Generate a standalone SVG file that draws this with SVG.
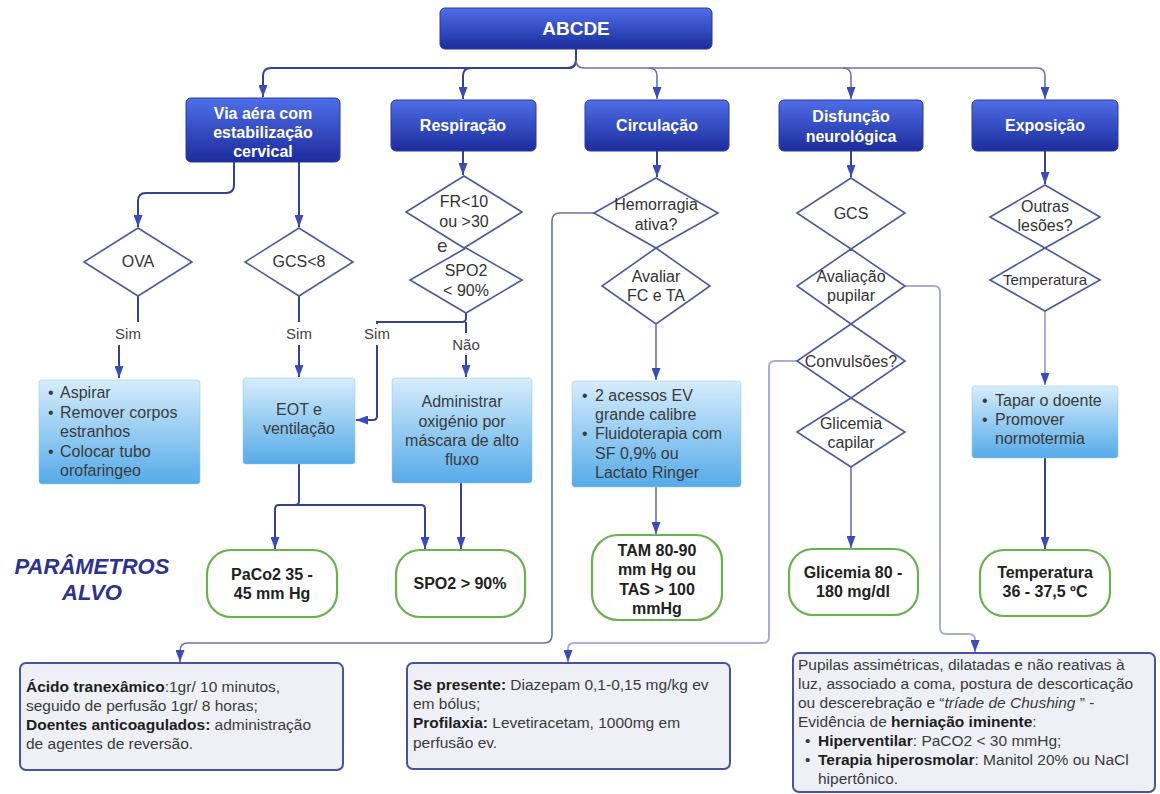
<svg xmlns="http://www.w3.org/2000/svg" width="1160" height="794" viewBox="0 0 1160 794">
<defs>
<linearGradient id="hdr" x1="0" y1="0" x2="0" y2="1"><stop offset="0" stop-color="#4f6ee8"/><stop offset="1" stop-color="#1c2c9c"/></linearGradient>
<linearGradient id="act" x1="0" y1="0" x2="0" y2="1"><stop offset="0" stop-color="#d6edfb"/><stop offset="1" stop-color="#55abe9"/></linearGradient>
<marker id="ah" viewBox="0 0 10 10" refX="10" refY="5" markerWidth="12" markerHeight="9" markerUnits="userSpaceOnUse" orient="auto" preserveAspectRatio="none"><path d="M0,0 L10,5 L0,10 z" fill="#3a4bbd"/></marker>
<style>
text{font-family:"Liberation Sans",Arial,sans-serif;}
.hdr{fill:url(#hdr);stroke:#2a3a9a;stroke-width:1}
.hdt{fill:#ffffff;font-weight:bold;font-size:16px;text-anchor:middle}
.act{fill:url(#act);stroke:#8cc4ee;stroke-width:0.5}
.at{fill:#3a3a3a;font-size:16px}
.atc{fill:#3a3a3a;font-size:16px;text-anchor:middle}
.dia{fill:#ffffff;stroke:#4b5a9c;stroke-width:1.6}
.dt{fill:#333333;font-size:16px;text-anchor:middle}
.tgt{fill:#ffffff;stroke:#6ab24e;stroke-width:2.2}
.tt{fill:#222222;font-weight:bold;font-size:16px;text-anchor:middle}
.note{fill:#eef0f6;stroke:#4653a0;stroke-width:2}
.nt{fill:#3a3a3a;font-size:15.5px}
.b{font-weight:bold;fill:#1e1e1e}
.lbl{fill:#444444;font-size:15px;text-anchor:middle}
.c{fill:none;stroke:#34428f;stroke-width:2}
.cl{fill:none;stroke:#6b73a8;stroke-width:1.6}
.cx{fill:none;stroke:#a9addb;stroke-width:2}
</style>
</defs>
<rect width="1160" height="794" fill="#ffffff"/>

<g id="connectors">
<path class="c" d="M576,49 V60 Q576,68 568,68 H271 Q263,68 263,76 V97" marker-end="url(#ah)"/>
<path class="c" d="M576,49 V60 Q576,68 568,68 H471 Q463,68 463,76 V99" marker-end="url(#ah)"/>
<path class="cl" d="M576,60 Q576,68 584,68 H649 Q657,68 657,76 V99" marker-end="url(#ah)"/>
<path class="cl" d="M649,68 H843 Q851,68 851,76 V99" marker-end="url(#ah)"/>
<path class="cl" d="M843,68 H1037 Q1045,68 1045,76 V99" marker-end="url(#ah)"/>

<path class="c" d="M234,162 V185 Q234,193 226,193 H146 Q138,193 138,201 V227" marker-end="url(#ah)"/>
<path class="c" d="M299,162 V227" marker-end="url(#ah)"/>
<path class="c" d="M138,296 V322"/>
<path class="c" d="M119,345 V378" marker-end="url(#ah)"/>
<path class="c" d="M299,296 V322"/>
<path class="c" d="M299,345 V377" marker-end="url(#ah)"/>

<path class="c" d="M463,151 V175" marker-end="url(#ah)"/>
<path class="c" d="M466,313 V318 Q466,322 462,322 H377 V324"/>
<path class="c" d="M377,345 V416 Q377,420 373,420 H356" marker-end="url(#ah)"/>
<path class="c" d="M466,322 V333"/>
<path class="c" d="M466,355 V377" marker-end="url(#ah)"/>
<path class="c" d="M299,464 V501 Q299,505 295,505 H279 Q275,505 275,509 V549" marker-end="url(#ah)"/>
<path class="c" d="M295,505 H421 Q425,505 425,509 V549" marker-end="url(#ah)"/>
<path class="c" d="M461,483 V549" marker-end="url(#ah)"/>

<path class="c" d="M657,151 V177" marker-end="url(#ah)"/>
<path class="cl" d="M656,324 V380" marker-end="url(#ah)"/>
<path class="cl" d="M656,487 V534" marker-end="url(#ah)"/>
<path class="cl" d="M594,213 H560 Q552,213 552,221 V635 Q552,643 544,643 H188 Q180,643 180,651 V662" marker-end="url(#ah)"/>

<path class="c" d="M851,151 V177" marker-end="url(#ah)"/>
<path class="cl" d="M851,467 V548" marker-end="url(#ah)"/>
<path class="cx" d="M905,286 H934 Q940,286 940,292 V628 Q940,634 946,634 H969 Q975,634 975,640 V652" marker-end="url(#ah)"/>
<path class="cx" d="M797,361 H775 Q769,361 769,367 V637 Q769,643 763,643 H574 Q568,643 568,649 V662" marker-end="url(#ah)"/>

<path class="c" d="M1045,151 V184" marker-end="url(#ah)"/>
<path class="cx" d="M1045,311 V385" marker-end="url(#ah)"/>
<path class="c" d="M1045,458 V549" marker-end="url(#ah)"/>

<text class="lbl" x="128" y="339">Sim</text>
<text class="lbl" x="299" y="339">Sim</text>
<text class="lbl" x="377" y="339">Sim</text>
<text class="lbl" x="466" y="350">Não</text>
<text x="437" y="252" style="fill:#444444;font-size:19px">e</text>
</g>

<g id="n-abcde"><rect class="hdr" x="440" y="8" width="272" height="41" rx="5"/><text class="hdt" x="576" y="35" style="font-size:19px">ABCDE</text></g>

<g id="n-via"><rect class="hdr" x="186" y="98" width="154" height="64" rx="5"/><text class="hdt" x="263" y="119">Via aéra com</text><text class="hdt" x="263" y="138">estabilização</text><text class="hdt" x="263" y="157">cervical</text></g>
<g id="n-resp"><rect class="hdr" x="391" y="100" width="145" height="51" rx="5"/><text class="hdt" x="463" y="131">Respiração</text></g>
<g id="n-circ"><rect class="hdr" x="585" y="100" width="144" height="51" rx="5"/><text class="hdt" x="657" y="131">Circulação</text></g>
<g id="n-disf"><rect class="hdr" x="779" y="100" width="144" height="51" rx="5"/><text class="hdt" x="851" y="122">Disfunção</text><text class="hdt" x="851" y="142">neurológica</text></g>
<g id="n-expo"><rect class="hdr" x="972" y="100" width="146" height="51" rx="5"/><text class="hdt" x="1045" y="131">Exposição</text></g>

<g id="d-ova"><polygon class="dia" points="138,228 192,262 138,296 84,262"/><text class="dt" x="138" y="267">OVA</text></g>
<g id="d-gcs8"><polygon class="dia" points="299,228 353,262 299,296 245,262"/><text class="dt" x="299" y="267">GCS&lt;8</text></g>
<g id="d-fr"><polygon class="dia" points="464,176 522,212 464,248 406,212"/><text class="dt" x="464" y="207">FR&lt;10</text><text class="dt" x="464" y="227">ou &gt;30</text></g>
<g id="d-spo2"><polygon class="dia" points="466,248 522,280 466,313 410,280"/><text class="dt" x="466" y="276">SPO2</text><text class="dt" x="466" y="296">&lt; 90%</text></g>
<g id="d-hem"><polygon class="dia" points="656,178 718,213 656,248 594,213"/><text class="dt" x="656" y="210">Hemorragia</text><text class="dt" x="656" y="230">ativa?</text></g>
<g id="d-aval"><polygon class="dia" points="656,248 710,286 656,324 602,286"/><text class="dt" x="656" y="282">Avaliar</text><text class="dt" x="656" y="301">FC e TA</text></g>
<g id="d-gcs"><polygon class="dia" points="851,178 905,213 851,249 797,213"/><text class="dt" x="851" y="219">GCS</text></g>
<g id="d-pup"><polygon class="dia" points="851,249 905,286 851,324 797,286"/><text class="dt" x="851" y="282">Avaliação</text><text class="dt" x="851" y="301">pupilar</text></g>
<g id="d-conv"><polygon class="dia" points="851,324 905,361 851,398 797,361"/><text class="dt" x="851" y="367">Convulsões?</text></g>
<g id="d-glic"><polygon class="dia" points="851,398 905,432 851,467 797,432"/><text class="dt" x="851" y="429">Glicemia</text><text class="dt" x="851" y="448">capilar</text></g>
<g id="d-outras"><polygon class="dia" points="1045,185 1100,217 1045,248 990,217"/><text class="dt" x="1045" y="212">Outras</text><text class="dt" x="1045" y="231">lesões?</text></g>
<g id="d-temp"><polygon class="dia" points="1045,248 1100,280 1045,311 990,280"/><text class="dt" x="1045" y="285" style="font-size:15px">Temperatura</text></g>

<g id="a-aspirar"><rect class="act" x="39" y="380" width="161" height="104" rx="3"/>
<text class="at" x="48" y="398">•</text><text class="at" x="60" y="398">Aspirar</text>
<text class="at" x="48" y="418">•</text><text class="at" x="60" y="418">Remover corpos</text>
<text class="at" x="60" y="437">estranhos</text>
<text class="at" x="48" y="457">•</text><text class="at" x="60" y="457">Colocar tubo</text>
<text class="at" x="60" y="476">orofaringeo</text></g>
<g id="a-eot"><rect class="act" x="243" y="378" width="112" height="86" rx="3"/><text class="atc" x="299" y="415">EOT e</text><text class="atc" x="299" y="434">ventilação</text></g>
<g id="a-adm"><rect class="act" x="392" y="378" width="140" height="105" rx="3"/><text class="atc" x="462" y="407">Administrar</text><text class="atc" x="462" y="427">oxigénio por</text><text class="atc" x="462" y="446">máscara de alto</text><text class="atc" x="462" y="465">fluxo</text></g>
<g id="a-acessos"><rect class="act" x="572" y="381" width="169" height="106" rx="3"/>
<text class="at" x="582" y="401">•</text><text class="at" x="595" y="401">2 acessos EV</text>
<text class="at" x="595" y="420">grande calibre</text>
<text class="at" x="582" y="439">•</text><text class="at" x="595" y="439">Fluidoterapia com</text>
<text class="at" x="595" y="459">SF 0,9% ou</text>
<text class="at" x="595" y="478">Lactato Ringer</text></g>
<g id="a-tapar"><rect class="act" x="972" y="386" width="146" height="72" rx="3"/>
<text class="at" x="982" y="406">•</text><text class="at" x="995" y="406">Tapar o doente</text>
<text class="at" x="982" y="425">•</text><text class="at" x="995" y="425">Promover</text>
<text class="at" x="995" y="444">normotermia</text></g>

<g id="t-paco2"><rect class="tgt" x="207" y="550" width="130" height="67" rx="24"/><text class="tt" x="272" y="580">PaCo2 35 -</text><text class="tt" x="272" y="599">45 mm Hg</text></g>
<g id="t-spo2"><rect class="tgt" x="396" y="550" width="129" height="67" rx="24"/><text class="tt" x="460" y="589">SPO2 &gt; 90%</text></g>
<g id="t-tam"><rect class="tgt" x="592" y="535" width="130" height="85" rx="26"/><text class="tt" x="657" y="556">TAM 80-90</text><text class="tt" x="657" y="575">mm Hg ou</text><text class="tt" x="657" y="595">TAS &gt; 100</text><text class="tt" x="657" y="614">mmHg</text></g>
<g id="t-glic"><rect class="tgt" x="789" y="549" width="129" height="66" rx="24"/><text class="tt" x="853" y="578">Glicemia 80 -</text><text class="tt" x="853" y="597">180 mg/dl</text></g>
<g id="t-temp"><rect class="tgt" x="980" y="550" width="130" height="66" rx="24"/><text class="tt" x="1045" y="578">Temperatura</text><text class="tt" x="1045" y="597">36 - 37,5 ºC</text></g>

<g id="label-parametros"><text x="92" y="574" text-anchor="middle" style="font-size:22px;font-weight:bold;font-style:italic;fill:#2d3190">PARÂMETROS</text><text x="92" y="600" text-anchor="middle" style="font-size:22px;font-weight:bold;font-style:italic;fill:#2d3190">ALVO</text></g>

<g id="n-acido"><rect class="note" x="20" y="663" width="323" height="107" rx="6"/>
<text class="nt" x="26" y="692"><tspan class="b">Ácido tranexâmico</tspan>:1gr/ 10 minutos,</text>
<text class="nt" x="26" y="711">seguido de perfusão 1gr/ 8 horas;</text>
<text class="nt" x="26" y="730"><tspan class="b">Doentes anticoagulados:</tspan> administração</text>
<text class="nt" x="26" y="749">de agentes de reversão.</text></g>
<g id="n-diaz"><rect class="note" x="407" y="663" width="323" height="106" rx="6"/>
<text class="nt" x="413" y="690"><tspan class="b">Se presente:</tspan> Diazepam 0,1-0,15 mg/kg ev</text>
<text class="nt" x="413" y="709">em bólus;</text>
<text class="nt" x="413" y="728"><tspan class="b">Profilaxia:</tspan> Levetiracetam, 1000mg em</text>
<text class="nt" x="413" y="748">perfusão ev.</text></g>
<g id="n-pup"><rect class="note" x="793" y="653" width="362" height="139" rx="6"/>
<text class="nt" x="798" y="670">Pupilas assimétricas, dilatadas e não reativas à</text>
<text class="nt" x="798" y="689">luz, associado a coma, postura de descorticação</text>
<text class="nt" x="798" y="708">ou descerebração e “<tspan style="font-style:italic">tríade de Chushing</tspan> ” -</text>
<text class="nt" x="798" y="727">Evidência de <tspan class="b">herniação iminente</tspan>:</text>
<text class="nt" x="805" y="746">•</text><text class="nt" x="818" y="746"><tspan class="b">Hiperventilar</tspan>: PaCO2 &lt; 30 mmHg;</text>
<text class="nt" x="805" y="765">•</text><text class="nt" x="818" y="765"><tspan class="b">Terapia hiperosmolar</tspan>: Manitol 20% ou NaCl</text>
<text class="nt" x="818" y="784">hipertônico.</text></g>
</svg>
